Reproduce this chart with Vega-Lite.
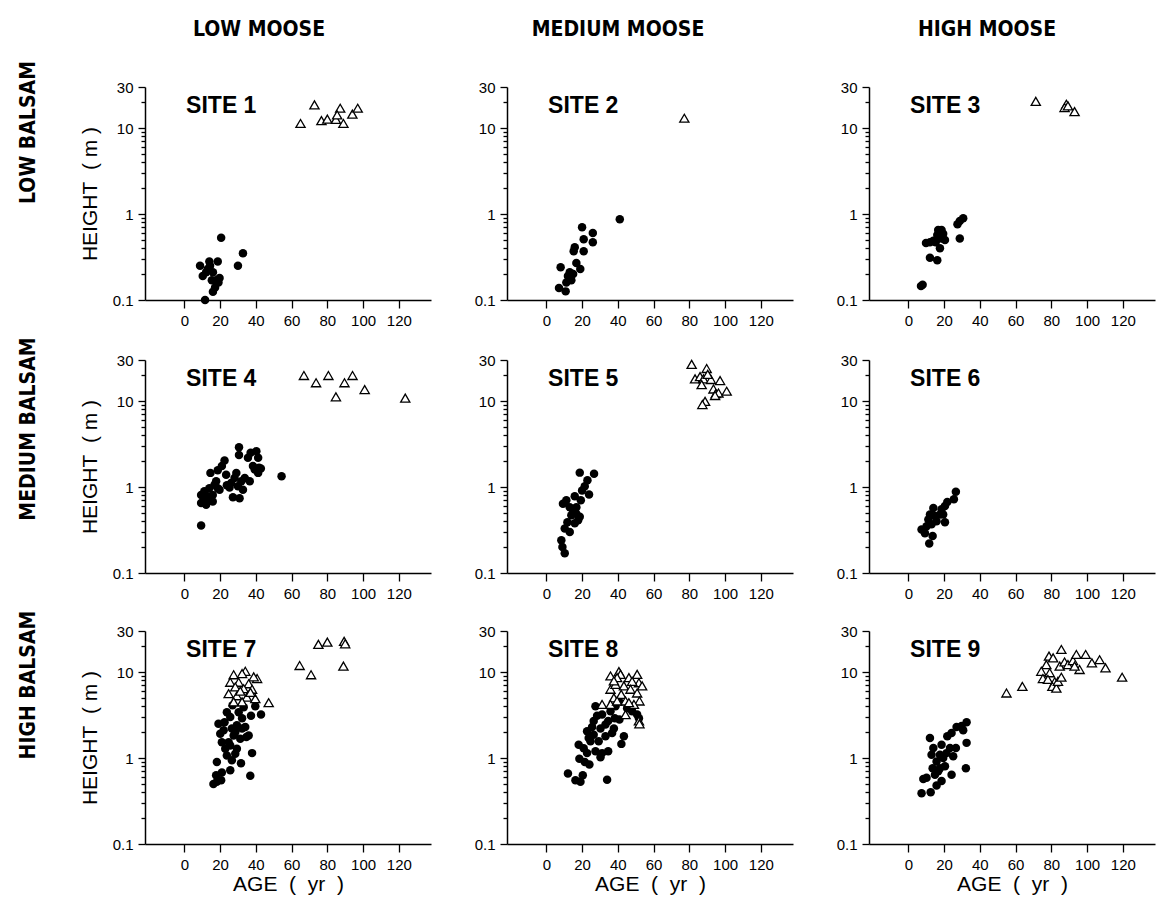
{
"$schema": "https://vega.github.io/schema/vega-lite/v6.json",
"padding": {"left": 18, "top": 19, "right": 4, "bottom": 4},
"background": "white",
"config": {
  "view": {"stroke": null},
  "axis": {"grid": false, "domainColor": "black", "domainWidth": 1.5, "tickColor": "black", "tickWidth": 1.3, "labelColor": "black", "labelFont": "Liberation Sans", "labelFontSize": 15, "titleFont": "Liberation Sans", "titleFontSize": 21, "titleFontWeight": "normal", "titleColor": "black"},
  "title": {"font": "DejaVu Sans Condensed, Liberation Sans, sans-serif", "fontSize": 21, "fontWeight": "bold", "color": "black"}
},
"datasets": {
"pts": [
{"s":1,"t":"d","a":20.6,"h":0.53},{"s":1,"t":"d","a":32.8,"h":0.35},{"s":1,"t":"d","a":30,"h":0.25},{"s":1,"t":"d","a":8.8,"h":0.25},{"s":1,"t":"d","a":10.3,"h":0.19},{"s":1,"t":"d","a":14,"h":0.28},{"s":1,"t":"d","a":16,"h":0.21},{"s":1,"t":"d","a":18.7,"h":0.28},{"s":1,"t":"d","a":13.1,"h":0.23},{"s":1,"t":"d","a":19.7,"h":0.18},{"s":1,"t":"d","a":19.1,"h":0.16},{"s":1,"t":"d","a":17.2,"h":0.14},{"s":1,"t":"d","a":16,"h":0.125},{"s":1,"t":"d","a":11.6,"h":0.1},{"s":1,"t":"d","a":12.2,"h":0.21},{"s":1,"t":"d","a":15.4,"h":0.17},{"s":1,"t":"d","a":17.8,"h":0.17},{"s":1,"t":"d","a":14.4,"h":0.25},
{"s":1,"t":"t","a":65,"h":11.3},{"s":1,"t":"t","a":72.8,"h":18.6},{"s":1,"t":"t","a":76.7,"h":12.2},{"s":1,"t":"t","a":80,"h":12.7},{"s":1,"t":"t","a":84.8,"h":12.6},{"s":1,"t":"t","a":87.2,"h":17},{"s":1,"t":"t","a":85.5,"h":14.2},{"s":1,"t":"t","a":89,"h":11.3},{"s":1,"t":"t","a":94,"h":14.5},{"s":1,"t":"t","a":97,"h":17},
{"s":2,"t":"d","a":41.1,"h":0.87},{"s":2,"t":"d","a":20,"h":0.7},{"s":2,"t":"d","a":20.9,"h":0.51},{"s":2,"t":"d","a":26,"h":0.6},{"s":2,"t":"d","a":26,"h":0.47},{"s":2,"t":"d","a":15.9,"h":0.41},{"s":2,"t":"d","a":15.3,"h":0.37},{"s":2,"t":"d","a":20.9,"h":0.37},{"s":2,"t":"d","a":16.8,"h":0.27},{"s":2,"t":"d","a":19,"h":0.23},{"s":2,"t":"d","a":8,"h":0.24},{"s":2,"t":"d","a":13.1,"h":0.21},{"s":2,"t":"d","a":12.1,"h":0.19},{"s":2,"t":"d","a":15,"h":0.2},{"s":2,"t":"d","a":11.2,"h":0.16},{"s":2,"t":"d","a":7.1,"h":0.138},{"s":2,"t":"d","a":10.8,"h":0.126},{"s":2,"t":"d","a":14,"h":0.17},
{"s":2,"t":"t","a":77.2,"h":13},
{"s":3,"t":"d","a":7.1,"h":0.145},{"s":3,"t":"d","a":8,"h":0.15},{"s":3,"t":"d","a":9.9,"h":0.46},{"s":3,"t":"d","a":12.1,"h":0.47},{"s":3,"t":"d","a":14,"h":0.49},{"s":3,"t":"d","a":15.3,"h":0.47},{"s":3,"t":"d","a":12.1,"h":0.31},{"s":3,"t":"d","a":16.2,"h":0.29},{"s":3,"t":"d","a":17.7,"h":0.4},{"s":3,"t":"d","a":16.7,"h":0.65},{"s":3,"t":"d","a":18,"h":0.57},{"s":3,"t":"d","a":19.5,"h":0.59},{"s":3,"t":"d","a":16.2,"h":0.57},{"s":3,"t":"d","a":18.6,"h":0.65},{"s":3,"t":"d","a":20.5,"h":0.5},{"s":3,"t":"d","a":28.8,"h":0.52},{"s":3,"t":"d","a":27.5,"h":0.76},{"s":3,"t":"d","a":28.8,"h":0.83},{"s":3,"t":"d","a":30.7,"h":0.89},{"s":3,"t":"d","a":18.6,"h":0.52},
{"s":3,"t":"t","a":71.3,"h":20.4},{"s":3,"t":"t","a":88.4,"h":18.9},{"s":3,"t":"t","a":87.4,"h":17.3},{"s":3,"t":"t","a":89.3,"h":18.1},{"s":3,"t":"t","a":93,"h":15.5},
{"s":4,"t":"d","a":9.4,"h":0.356},{"s":4,"t":"d","a":54.4,"h":1.33},{"s":4,"t":"d","a":30.6,"h":2.9},{"s":4,"t":"d","a":30.6,"h":2.35},{"s":4,"t":"d","a":9.4,"h":0.81},{"s":4,"t":"d","a":9.4,"h":0.65},{"s":4,"t":"d","a":11.2,"h":0.89},{"s":4,"t":"d","a":12.2,"h":0.62},{"s":4,"t":"d","a":13.1,"h":0.78},{"s":4,"t":"d","a":14,"h":0.97},{"s":4,"t":"d","a":14.6,"h":1.46},{"s":4,"t":"d","a":15.9,"h":0.68},{"s":4,"t":"d","a":16.9,"h":1.06},{"s":4,"t":"d","a":17.8,"h":1.17},{"s":4,"t":"d","a":18.7,"h":1.57},{"s":4,"t":"d","a":19.7,"h":0.93},{"s":4,"t":"d","a":21,"h":1.75},{"s":4,"t":"d","a":22.5,"h":2.04},{"s":4,"t":"d","a":23.4,"h":1.39},{"s":4,"t":"d","a":23.8,"h":1.05},{"s":4,"t":"d","a":25.3,"h":0.99},{"s":4,"t":"d","a":26.2,"h":1.11},{"s":4,"t":"d","a":27.2,"h":0.76},{"s":4,"t":"d","a":28.1,"h":1.27},{"s":4,"t":"d","a":29.1,"h":1.46},{"s":4,"t":"d","a":30,"h":1.02},{"s":4,"t":"d","a":30.9,"h":0.74},{"s":4,"t":"d","a":31.9,"h":1.17},{"s":4,"t":"d","a":32.8,"h":0.93},{"s":4,"t":"d","a":33.8,"h":1.27},{"s":4,"t":"d","a":35.6,"h":2.19},{"s":4,"t":"d","a":36.6,"h":1.17},{"s":4,"t":"d","a":37.1,"h":2.5},{"s":4,"t":"d","a":38.4,"h":1.75},{"s":4,"t":"d","a":39.4,"h":1.6},{"s":4,"t":"d","a":40.3,"h":2.6},{"s":4,"t":"d","a":41.3,"h":2.19},{"s":4,"t":"d","a":41.8,"h":1.67},{"s":4,"t":"d","a":42.8,"h":1.64},{"s":4,"t":"d","a":41.3,"h":1.46},{"s":4,"t":"d","a":15.9,"h":0.81},{"s":4,"t":"d","a":14,"h":0.74},{"s":4,"t":"d","a":11.2,"h":0.71},{"s":4,"t":"d","a":18.7,"h":0.97},
{"s":4,"t":"t","a":66.9,"h":19.8},{"s":4,"t":"t","a":73.7,"h":16.3},{"s":4,"t":"t","a":80.6,"h":19.8},{"s":4,"t":"t","a":84.8,"h":11.2},{"s":4,"t":"t","a":89.6,"h":16.3},{"s":4,"t":"t","a":94.1,"h":19.8},{"s":4,"t":"t","a":100.9,"h":13.6},{"s":4,"t":"t","a":123.6,"h":10.8},
{"s":5,"t":"d","a":18.7,"h":1.47},{"s":5,"t":"d","a":26.7,"h":1.43},{"s":5,"t":"d","a":23,"h":1.2},{"s":5,"t":"d","a":21.5,"h":1.02},{"s":5,"t":"d","a":23.9,"h":0.82},{"s":5,"t":"d","a":20,"h":0.91},{"s":5,"t":"d","a":19.3,"h":0.7},{"s":5,"t":"d","a":15.9,"h":0.78},{"s":5,"t":"d","a":11.2,"h":0.7},{"s":5,"t":"d","a":9.3,"h":0.64},{"s":5,"t":"d","a":13.1,"h":0.58},{"s":5,"t":"d","a":15,"h":0.51},{"s":5,"t":"d","a":16.8,"h":0.49},{"s":5,"t":"d","a":18.7,"h":0.45},{"s":5,"t":"d","a":17.8,"h":0.41},{"s":5,"t":"d","a":15.9,"h":0.38},{"s":5,"t":"d","a":11.8,"h":0.39},{"s":5,"t":"d","a":10.3,"h":0.33},{"s":5,"t":"d","a":13.1,"h":0.3},{"s":5,"t":"d","a":8.4,"h":0.24},{"s":5,"t":"d","a":9,"h":0.2},{"s":5,"t":"d","a":10.3,"h":0.17},{"s":5,"t":"d","a":14,"h":0.47},{"s":5,"t":"d","a":16.8,"h":0.58},
{"s":5,"t":"t","a":81.3,"h":26.7},{"s":5,"t":"t","a":89.7,"h":23.9},{"s":5,"t":"t","a":83.2,"h":18.1},{"s":5,"t":"t","a":86,"h":19.2},{"s":5,"t":"t","a":87.9,"h":18.1},{"s":5,"t":"t","a":92.1,"h":17.8},{"s":5,"t":"t","a":97.2,"h":17.3},{"s":5,"t":"t","a":86.9,"h":15.5},{"s":5,"t":"t","a":93.5,"h":13.8},{"s":5,"t":"t","a":94.8,"h":12.2},{"s":5,"t":"t","a":96.3,"h":12.4},{"s":5,"t":"t","a":100.9,"h":13},{"s":5,"t":"t","a":94.4,"h":11.6},{"s":5,"t":"t","a":88.8,"h":9.9},{"s":5,"t":"t","a":87.3,"h":9.1},{"s":5,"t":"t","a":90.3,"h":20.4},
{"s":6,"t":"d","a":26.6,"h":0.88},{"s":6,"t":"d","a":25.5,"h":0.72},{"s":6,"t":"d","a":21.8,"h":0.67},{"s":6,"t":"d","a":20.5,"h":0.6},{"s":6,"t":"d","a":18.6,"h":0.55},{"s":6,"t":"d","a":17.7,"h":0.48},{"s":6,"t":"d","a":14,"h":0.57},{"s":6,"t":"d","a":12.1,"h":0.48},{"s":6,"t":"d","a":11.2,"h":0.42},{"s":6,"t":"d","a":15.8,"h":0.4},{"s":6,"t":"d","a":20.5,"h":0.39},{"s":6,"t":"d","a":7.4,"h":0.32},{"s":6,"t":"d","a":9.3,"h":0.29},{"s":6,"t":"d","a":13.6,"h":0.27},{"s":6,"t":"d","a":11.7,"h":0.22},{"s":6,"t":"d","a":13,"h":0.37},{"s":6,"t":"d","a":14.9,"h":0.46},{"s":6,"t":"d","a":19.5,"h":0.48},{"s":6,"t":"d","a":10.2,"h":0.35},
{"s":7,"t":"d","a":16.3,"h":0.5},{"s":7,"t":"d","a":18.2,"h":0.53},{"s":7,"t":"d","a":20.6,"h":0.55},{"s":7,"t":"d","a":17.8,"h":0.63},{"s":7,"t":"d","a":21,"h":0.68},{"s":7,"t":"d","a":18.2,"h":0.9},{"s":7,"t":"d","a":25.7,"h":0.72},{"s":7,"t":"d","a":36.9,"h":0.62},{"s":7,"t":"d","a":26.6,"h":0.94},{"s":7,"t":"d","a":31.7,"h":0.87},{"s":7,"t":"d","a":37.9,"h":1.14},{"s":7,"t":"d","a":23.8,"h":1.07},{"s":7,"t":"d","a":28.5,"h":1.12},{"s":7,"t":"d","a":29.4,"h":1.28},{"s":7,"t":"d","a":22.9,"h":1.28},{"s":7,"t":"d","a":21,"h":1.53},{"s":7,"t":"d","a":24.8,"h":1.53},{"s":7,"t":"d","a":27.6,"h":1.83},{"s":7,"t":"d","a":31.3,"h":1.68},{"s":7,"t":"d","a":34.7,"h":1.75},{"s":7,"t":"d","a":36,"h":1.83},{"s":7,"t":"d","a":20.1,"h":1.92},{"s":7,"t":"d","a":19.1,"h":2.5},{"s":7,"t":"d","a":22.5,"h":2.6},{"s":7,"t":"d","a":26.6,"h":2.2},{"s":7,"t":"d","a":29.4,"h":2.4},{"s":7,"t":"d","a":32.3,"h":2.2},{"s":7,"t":"d","a":34.1,"h":2.3},{"s":7,"t":"d","a":37.3,"h":3.1},{"s":7,"t":"d","a":42.9,"h":3.2},{"s":7,"t":"d","a":25.7,"h":3.0},{"s":7,"t":"d","a":30.4,"h":3.4},{"s":7,"t":"d","a":27,"h":4.1},{"s":7,"t":"d","a":33.2,"h":3.9},{"s":7,"t":"d","a":39.7,"h":4.0},{"s":7,"t":"d","a":23.8,"h":3.4},{"s":7,"t":"d","a":28.5,"h":2.0},{"s":7,"t":"d","a":25.7,"h":1.4},{"s":7,"t":"d","a":32.3,"h":2.9},{"s":7,"t":"d","a":22,"h":2.1},
{"s":7,"t":"t","a":64.5,"h":11.9},{"s":7,"t":"t","a":70.9,"h":9.3},{"s":7,"t":"t","a":75,"h":21},{"s":7,"t":"t","a":80,"h":22.3},{"s":7,"t":"t","a":89.4,"h":22.7},{"s":7,"t":"t","a":90,"h":21.3},{"s":7,"t":"t","a":89,"h":11.7},{"s":7,"t":"t","a":47.2,"h":4.4},{"s":7,"t":"t","a":27.6,"h":9.3},{"s":7,"t":"t","a":34.1,"h":10.2},{"s":7,"t":"t","a":32.3,"h":9.6},{"s":7,"t":"t","a":40.7,"h":8.4},{"s":7,"t":"t","a":38.8,"h":8.8},{"s":7,"t":"t","a":25.7,"h":7.6},{"s":7,"t":"t","a":30.4,"h":7.6},{"s":7,"t":"t","a":36,"h":7.3},{"s":7,"t":"t","a":28.5,"h":6.7},{"s":7,"t":"t","a":33.2,"h":6.4},{"s":7,"t":"t","a":37.9,"h":6.3},{"s":7,"t":"t","a":24.8,"h":5.6},{"s":7,"t":"t","a":29.4,"h":5.3},{"s":7,"t":"t","a":35,"h":5.1},{"s":7,"t":"t","a":39.7,"h":4.9},{"s":7,"t":"t","a":32.3,"h":4.5},{"s":7,"t":"t","a":27.6,"h":4.5},{"s":7,"t":"t","a":37,"h":5.8},{"s":7,"t":"t","a":31.3,"h":6.0},
{"s":8,"t":"d","a":12.1,"h":0.66},{"s":8,"t":"d","a":16.3,"h":0.55},{"s":8,"t":"d","a":19.1,"h":0.53},{"s":8,"t":"d","a":20.4,"h":0.63},{"s":8,"t":"d","a":18.5,"h":0.98},{"s":8,"t":"d","a":21.5,"h":0.9},{"s":8,"t":"d","a":24.1,"h":0.84},{"s":8,"t":"d","a":34,"h":0.56},{"s":8,"t":"d","a":18.1,"h":1.43},{"s":8,"t":"d","a":22.8,"h":1.14},{"s":8,"t":"d","a":27.5,"h":1.2},{"s":8,"t":"d","a":30.3,"h":1.02},{"s":8,"t":"d","a":31.2,"h":1.14},{"s":8,"t":"d","a":34.6,"h":1.2},{"s":8,"t":"d","a":23.7,"h":1.71},{"s":8,"t":"d","a":26.5,"h":1.87},{"s":8,"t":"d","a":22.8,"h":2.05},{"s":8,"t":"d","a":29.3,"h":1.57},{"s":8,"t":"d","a":33.1,"h":1.79},{"s":8,"t":"d","a":36.8,"h":1.96},{"s":8,"t":"d","a":42,"h":1.46},{"s":8,"t":"d","a":43.4,"h":1.79},{"s":8,"t":"d","a":26.5,"h":2.7},{"s":8,"t":"d","a":27.5,"h":4.0},{"s":8,"t":"d","a":31.2,"h":3.2},{"s":8,"t":"d","a":34.6,"h":2.7},{"s":8,"t":"d","a":38.3,"h":2.9},{"s":8,"t":"d","a":40.9,"h":2.8},{"s":8,"t":"d","a":30.3,"h":2.2},{"s":8,"t":"d","a":25.6,"h":2.3},{"s":8,"t":"d","a":50.8,"h":3.2},{"s":8,"t":"d","a":51.8,"h":2.9},{"s":8,"t":"d","a":45.2,"h":3.8},{"s":8,"t":"d","a":48,"h":3.5},{"s":8,"t":"d","a":35.9,"h":3.5},{"s":8,"t":"d","a":28.4,"h":3.1},{"s":8,"t":"d","a":33.1,"h":2.45},{"s":8,"t":"d","a":24.7,"h":1.57},{"s":8,"t":"d","a":20.9,"h":1.3},{"s":8,"t":"d","a":37.8,"h":2.2},{"s":8,"t":"d","a":40.6,"h":4.6},{"s":8,"t":"d","a":38.7,"h":4.0},
{"s":8,"t":"t","a":35.9,"h":9.0},{"s":8,"t":"t","a":40.6,"h":10.1},{"s":8,"t":"t","a":41.5,"h":9.4},{"s":8,"t":"t","a":46.2,"h":8.6},{"s":8,"t":"t","a":50.8,"h":9.4},{"s":8,"t":"t","a":51.8,"h":7.5},{"s":8,"t":"t","a":48,"h":7.8},{"s":8,"t":"t","a":35.9,"h":6.3},{"s":8,"t":"t","a":38.7,"h":7.2},{"s":8,"t":"t","a":43.4,"h":6.9},{"s":8,"t":"t","a":47.1,"h":6.3},{"s":8,"t":"t","a":50.8,"h":5.7},{"s":8,"t":"t","a":52.1,"h":4.6},{"s":8,"t":"t","a":37.8,"h":5.0},{"s":8,"t":"t","a":41.9,"h":5.5},{"s":8,"t":"t","a":44.3,"h":4.6},{"s":8,"t":"t","a":49,"h":4.2},{"s":8,"t":"t","a":31.2,"h":4.2},{"s":8,"t":"t","a":35.9,"h":4.2},{"s":8,"t":"t","a":44.3,"h":3.2},{"s":8,"t":"t","a":51.8,"h":2.7},{"s":8,"t":"t","a":52.1,"h":2.5},{"s":8,"t":"t","a":39.6,"h":4.6},{"s":8,"t":"t","a":46.2,"h":4.4},{"s":8,"t":"t","a":53.6,"h":6.9},{"s":8,"t":"t","a":39.6,"h":8.6},{"s":8,"t":"t","a":37.8,"h":7.9},
{"s":9,"t":"d","a":7.4,"h":0.39},{"s":9,"t":"d","a":8.4,"h":0.57},{"s":9,"t":"d","a":10.2,"h":0.59},{"s":9,"t":"d","a":12.5,"h":0.4},{"s":9,"t":"d","a":12.1,"h":1.71},{"s":9,"t":"d","a":14,"h":1.31},{"s":9,"t":"d","a":13,"h":1.09},{"s":9,"t":"d","a":15.8,"h":0.48},{"s":9,"t":"d","a":18.6,"h":0.54},{"s":9,"t":"d","a":13.6,"h":0.76},{"s":9,"t":"d","a":15.8,"h":0.91},{"s":9,"t":"d","a":17.7,"h":0.76},{"s":9,"t":"d","a":14.9,"h":0.64},{"s":9,"t":"d","a":19.5,"h":1.0},{"s":9,"t":"d","a":18.6,"h":1.43},{"s":9,"t":"d","a":21.8,"h":1.79},{"s":9,"t":"d","a":24.2,"h":1.95},{"s":9,"t":"d","a":27,"h":2.3},{"s":9,"t":"d","a":29.8,"h":2.35},{"s":9,"t":"d","a":32.6,"h":2.6},{"s":9,"t":"d","a":30.7,"h":2.1},{"s":9,"t":"d","a":26.6,"h":1.31},{"s":9,"t":"d","a":25.1,"h":1.05},{"s":9,"t":"d","a":24.2,"h":0.64},{"s":9,"t":"d","a":32.6,"h":1.5},{"s":9,"t":"d","a":32.2,"h":0.76},{"s":9,"t":"d","a":21.4,"h":1.14},{"s":9,"t":"d","a":16.7,"h":0.7},{"s":9,"t":"d","a":20.5,"h":0.8},{"s":9,"t":"d","a":23.3,"h":1.31},{"s":9,"t":"d","a":17.7,"h":1.09},
{"s":9,"t":"t","a":54.9,"h":5.7},{"s":9,"t":"t","a":63.8,"h":6.8},{"s":9,"t":"t","a":85.6,"h":18.3},{"s":9,"t":"t","a":78.7,"h":15.3},{"s":9,"t":"t","a":81,"h":14.6},{"s":9,"t":"t","a":77.2,"h":12.2},{"s":9,"t":"t","a":74.4,"h":10.2},{"s":9,"t":"t","a":79.1,"h":9.8},{"s":9,"t":"t","a":75.3,"h":8.4},{"s":9,"t":"t","a":78.1,"h":8.2},{"s":9,"t":"t","a":81.9,"h":7.7},{"s":9,"t":"t","a":80.6,"h":6.8},{"s":9,"t":"t","a":82.8,"h":6.5},{"s":9,"t":"t","a":83.7,"h":7.8},{"s":9,"t":"t","a":85.6,"h":8.7},{"s":9,"t":"t","a":84.7,"h":11.7},{"s":9,"t":"t","a":87.4,"h":13.1},{"s":9,"t":"t","a":89.3,"h":12.2},{"s":9,"t":"t","a":92.1,"h":13.6},{"s":9,"t":"t","a":94,"h":16},{"s":9,"t":"t","a":95.8,"h":10.7},{"s":9,"t":"t","a":99.2,"h":16},{"s":9,"t":"t","a":102.7,"h":12.8},{"s":9,"t":"t","a":107,"h":13.9},{"s":9,"t":"t","a":110.3,"h":11.2},{"s":9,"t":"t","a":119.6,"h":8.7},{"s":9,"t":"t","a":93,"h":11.7}
]
},
"spacing": 9,
"vconcat": [
{"title": {"text": "LOW BALSAM", "orient": "left", "anchor": "middle", "offset": 40, "dx": 41},
 "spacing": 43,
 "hconcat": [
  {"width": 286, "height": 213, "title": {"text": "LOW MOOSE", "offset": 40, "dx": -29},
   "layer": [
    {"data": {"name": "pts"}, "transform": [{"filter": "datum.s == 1 && datum.t == 'd'"}], "mark": {"type": "point", "shape": "circle", "filled": true, "color": "black", "size": 72, "opacity": 1},
     "encoding": {"x": {"field": "a", "type": "quantitative", "scale": {"domain": [-22, 138], "nice": false, "zero": false}, "axis": {"title": null, "values": [0,10,20,30,40,50,60,70,80,90,100,110,120,130], "labelExpr": "datum.value % 20 === 0 ? datum.label : ''", "format": "d", "tickSize": {"condition": {"test": "datum.value % 20 === 0", "value": 8}, "value": 5}, "labelPadding": 5, "labelFlush": false, "labelOverlap": false}},
      "y": {"field": "h", "type": "quantitative", "scale": {"type": "log", "domain": [0.1, 30], "nice": false}, "axis": {"title": "HEIGHT\u00a0\u00a0(\u00a0m\u00a0)", "titlePadding": 12, "values": [0.1,0.2,0.3,0.4,0.5,0.6,0.7,0.8,0.9,1,2,3,4,5,6,7,8,9,10,20,30], "format": "~g", "labelExpr": "indexof([0.1,1,10,30], datum.value) >= 0 ? datum.label : ''", "tickSize": {"condition": {"test": "indexof([0.1,1,10,30], datum.value) >= 0", "value": 7}, "value": 4}, "labelPadding": 5, "labelFlush": false, "labelOverlap": false}}}},
    {"data": {"name": "pts"}, "transform": [{"filter": "datum.s == 1 && datum.t == 't'"}], "mark": {"type": "point", "shape": "triangle-up", "filled": true, "fill": "white", "stroke": "black", "strokeWidth": 1.3, "size": 85, "opacity": 1},
     "encoding": {"x": {"field": "a", "type": "quantitative", "scale": {"domain": [-22, 138], "nice": false, "zero": false}}, "y": {"field": "h", "type": "quantitative", "scale": {"type": "log", "domain": [0.1, 30], "nice": false}}}},
    {"data": {"values": [{"label": "SITE 1"}]}, "mark": {"type": "text", "align": "left", "baseline": "middle", "font": "Liberation Sans", "fontWeight": "bold", "fontSize": 23, "color": "black"},
     "encoding": {"x": {"datum": 1, "type": "quantitative", "scale": {"domain": [-22, 138], "nice": false, "zero": false}}, "y": {"datum": 18, "type": "quantitative", "scale": {"type": "log", "domain": [0.1, 30], "nice": false}}, "text": {"field": "label"}}}
   ]},
  {"width": 286, "height": 213, "title": {"text": "MEDIUM MOOSE", "offset": 40, "dx": -32},
   "layer": [
    {"data": {"name": "pts"}, "transform": [{"filter": "datum.s == 2 && datum.t == 'd'"}], "mark": {"type": "point", "shape": "circle", "filled": true, "color": "black", "size": 72, "opacity": 1},
     "encoding": {"x": {"field": "a", "type": "quantitative", "scale": {"domain": [-22, 138], "nice": false, "zero": false}, "axis": {"title": null, "values": [0,10,20,30,40,50,60,70,80,90,100,110,120,130], "labelExpr": "datum.value % 20 === 0 ? datum.label : ''", "format": "d", "tickSize": {"condition": {"test": "datum.value % 20 === 0", "value": 8}, "value": 5}, "labelPadding": 5, "labelFlush": false, "labelOverlap": false}},
      "y": {"field": "h", "type": "quantitative", "scale": {"type": "log", "domain": [0.1, 30], "nice": false}, "axis": {"title": null, "values": [0.1,0.2,0.3,0.4,0.5,0.6,0.7,0.8,0.9,1,2,3,4,5,6,7,8,9,10,20,30], "format": "~g", "labelExpr": "indexof([0.1,1,10,30], datum.value) >= 0 ? datum.label : ''", "tickSize": {"condition": {"test": "indexof([0.1,1,10,30], datum.value) >= 0", "value": 7}, "value": 4}, "labelPadding": 5, "labelFlush": false, "labelOverlap": false}}}},
    {"data": {"name": "pts"}, "transform": [{"filter": "datum.s == 2 && datum.t == 't'"}], "mark": {"type": "point", "shape": "triangle-up", "filled": true, "fill": "white", "stroke": "black", "strokeWidth": 1.3, "size": 85, "opacity": 1},
     "encoding": {"x": {"field": "a", "type": "quantitative", "scale": {"domain": [-22, 138], "nice": false, "zero": false}}, "y": {"field": "h", "type": "quantitative", "scale": {"type": "log", "domain": [0.1, 30], "nice": false}}}},
    {"data": {"values": [{"label": "SITE 2"}]}, "mark": {"type": "text", "align": "left", "baseline": "middle", "font": "Liberation Sans", "fontWeight": "bold", "fontSize": 23, "color": "black"},
     "encoding": {"x": {"datum": 1, "type": "quantitative", "scale": {"domain": [-22, 138], "nice": false, "zero": false}}, "y": {"datum": 18, "type": "quantitative", "scale": {"type": "log", "domain": [0.1, 30], "nice": false}}, "text": {"field": "label"}}}
   ]},
  {"width": 286, "height": 213, "title": {"text": "HIGH MOOSE", "offset": 40, "dx": -25},
   "layer": [
    {"data": {"name": "pts"}, "transform": [{"filter": "datum.s == 3 && datum.t == 'd'"}], "mark": {"type": "point", "shape": "circle", "filled": true, "color": "black", "size": 72, "opacity": 1},
     "encoding": {"x": {"field": "a", "type": "quantitative", "scale": {"domain": [-22, 138], "nice": false, "zero": false}, "axis": {"title": null, "values": [0,10,20,30,40,50,60,70,80,90,100,110,120,130], "labelExpr": "datum.value % 20 === 0 ? datum.label : ''", "format": "d", "tickSize": {"condition": {"test": "datum.value % 20 === 0", "value": 8}, "value": 5}, "labelPadding": 5, "labelFlush": false, "labelOverlap": false}},
      "y": {"field": "h", "type": "quantitative", "scale": {"type": "log", "domain": [0.1, 30], "nice": false}, "axis": {"title": null, "values": [0.1,0.2,0.3,0.4,0.5,0.6,0.7,0.8,0.9,1,2,3,4,5,6,7,8,9,10,20,30], "format": "~g", "labelExpr": "indexof([0.1,1,10,30], datum.value) >= 0 ? datum.label : ''", "tickSize": {"condition": {"test": "indexof([0.1,1,10,30], datum.value) >= 0", "value": 7}, "value": 4}, "labelPadding": 5, "labelFlush": false, "labelOverlap": false}}}},
    {"data": {"name": "pts"}, "transform": [{"filter": "datum.s == 3 && datum.t == 't'"}], "mark": {"type": "point", "shape": "triangle-up", "filled": true, "fill": "white", "stroke": "black", "strokeWidth": 1.3, "size": 85, "opacity": 1},
     "encoding": {"x": {"field": "a", "type": "quantitative", "scale": {"domain": [-22, 138], "nice": false, "zero": false}}, "y": {"field": "h", "type": "quantitative", "scale": {"type": "log", "domain": [0.1, 30], "nice": false}}}},
    {"data": {"values": [{"label": "SITE 3"}]}, "mark": {"type": "text", "align": "left", "baseline": "middle", "font": "Liberation Sans", "fontWeight": "bold", "fontSize": 23, "color": "black"},
     "encoding": {"x": {"datum": 1, "type": "quantitative", "scale": {"domain": [-22, 138], "nice": false, "zero": false}}, "y": {"datum": 18, "type": "quantitative", "scale": {"type": "log", "domain": [0.1, 30], "nice": false}}, "text": {"field": "label"}}}
   ]}
 ]},
{"title": {"text": "MEDIUM BALSAM", "orient": "left", "anchor": "middle", "offset": 40, "dx": 48},
 "spacing": 43,
 "hconcat": [
  {"width": 286, "height": 213,
   "layer": [
    {"data": {"name": "pts"}, "transform": [{"filter": "datum.s == 4 && datum.t == 'd'"}], "mark": {"type": "point", "shape": "circle", "filled": true, "color": "black", "size": 72, "opacity": 1},
     "encoding": {"x": {"field": "a", "type": "quantitative", "scale": {"domain": [-22, 138], "nice": false, "zero": false}, "axis": {"title": null, "values": [0,10,20,30,40,50,60,70,80,90,100,110,120,130], "labelExpr": "datum.value % 20 === 0 ? datum.label : ''", "format": "d", "tickSize": {"condition": {"test": "datum.value % 20 === 0", "value": 8}, "value": 5}, "labelPadding": 5, "labelFlush": false, "labelOverlap": false}},
      "y": {"field": "h", "type": "quantitative", "scale": {"type": "log", "domain": [0.1, 30], "nice": false}, "axis": {"title": "HEIGHT\u00a0\u00a0(\u00a0m\u00a0)", "titlePadding": 12, "values": [0.1,0.2,0.3,0.4,0.5,0.6,0.7,0.8,0.9,1,2,3,4,5,6,7,8,9,10,20,30], "format": "~g", "labelExpr": "indexof([0.1,1,10,30], datum.value) >= 0 ? datum.label : ''", "tickSize": {"condition": {"test": "indexof([0.1,1,10,30], datum.value) >= 0", "value": 7}, "value": 4}, "labelPadding": 5, "labelFlush": false, "labelOverlap": false}}}},
    {"data": {"name": "pts"}, "transform": [{"filter": "datum.s == 4 && datum.t == 't'"}], "mark": {"type": "point", "shape": "triangle-up", "filled": true, "fill": "white", "stroke": "black", "strokeWidth": 1.3, "size": 85, "opacity": 1},
     "encoding": {"x": {"field": "a", "type": "quantitative", "scale": {"domain": [-22, 138], "nice": false, "zero": false}}, "y": {"field": "h", "type": "quantitative", "scale": {"type": "log", "domain": [0.1, 30], "nice": false}}}},
    {"data": {"values": [{"label": "SITE 4"}]}, "mark": {"type": "text", "align": "left", "baseline": "middle", "font": "Liberation Sans", "fontWeight": "bold", "fontSize": 23, "color": "black"},
     "encoding": {"x": {"datum": 1, "type": "quantitative", "scale": {"domain": [-22, 138], "nice": false, "zero": false}}, "y": {"datum": 18, "type": "quantitative", "scale": {"type": "log", "domain": [0.1, 30], "nice": false}}, "text": {"field": "label"}}}
   ]},
  {"width": 286, "height": 213,
   "layer": [
    {"data": {"name": "pts"}, "transform": [{"filter": "datum.s == 5 && datum.t == 'd'"}], "mark": {"type": "point", "shape": "circle", "filled": true, "color": "black", "size": 72, "opacity": 1},
     "encoding": {"x": {"field": "a", "type": "quantitative", "scale": {"domain": [-22, 138], "nice": false, "zero": false}, "axis": {"title": null, "values": [0,10,20,30,40,50,60,70,80,90,100,110,120,130], "labelExpr": "datum.value % 20 === 0 ? datum.label : ''", "format": "d", "tickSize": {"condition": {"test": "datum.value % 20 === 0", "value": 8}, "value": 5}, "labelPadding": 5, "labelFlush": false, "labelOverlap": false}},
      "y": {"field": "h", "type": "quantitative", "scale": {"type": "log", "domain": [0.1, 30], "nice": false}, "axis": {"title": null, "values": [0.1,0.2,0.3,0.4,0.5,0.6,0.7,0.8,0.9,1,2,3,4,5,6,7,8,9,10,20,30], "format": "~g", "labelExpr": "indexof([0.1,1,10,30], datum.value) >= 0 ? datum.label : ''", "tickSize": {"condition": {"test": "indexof([0.1,1,10,30], datum.value) >= 0", "value": 7}, "value": 4}, "labelPadding": 5, "labelFlush": false, "labelOverlap": false}}}},
    {"data": {"name": "pts"}, "transform": [{"filter": "datum.s == 5 && datum.t == 't'"}], "mark": {"type": "point", "shape": "triangle-up", "filled": true, "fill": "white", "stroke": "black", "strokeWidth": 1.3, "size": 85, "opacity": 1},
     "encoding": {"x": {"field": "a", "type": "quantitative", "scale": {"domain": [-22, 138], "nice": false, "zero": false}}, "y": {"field": "h", "type": "quantitative", "scale": {"type": "log", "domain": [0.1, 30], "nice": false}}}},
    {"data": {"values": [{"label": "SITE 5"}]}, "mark": {"type": "text", "align": "left", "baseline": "middle", "font": "Liberation Sans", "fontWeight": "bold", "fontSize": 23, "color": "black"},
     "encoding": {"x": {"datum": 1, "type": "quantitative", "scale": {"domain": [-22, 138], "nice": false, "zero": false}}, "y": {"datum": 18, "type": "quantitative", "scale": {"type": "log", "domain": [0.1, 30], "nice": false}}, "text": {"field": "label"}}}
   ]},
  {"width": 286, "height": 213,
   "layer": [
    {"data": {"name": "pts"}, "transform": [{"filter": "datum.s == 6 && datum.t == 'd'"}], "mark": {"type": "point", "shape": "circle", "filled": true, "color": "black", "size": 72, "opacity": 1},
     "encoding": {"x": {"field": "a", "type": "quantitative", "scale": {"domain": [-22, 138], "nice": false, "zero": false}, "axis": {"title": null, "values": [0,10,20,30,40,50,60,70,80,90,100,110,120,130], "labelExpr": "datum.value % 20 === 0 ? datum.label : ''", "format": "d", "tickSize": {"condition": {"test": "datum.value % 20 === 0", "value": 8}, "value": 5}, "labelPadding": 5, "labelFlush": false, "labelOverlap": false}},
      "y": {"field": "h", "type": "quantitative", "scale": {"type": "log", "domain": [0.1, 30], "nice": false}, "axis": {"title": null, "values": [0.1,0.2,0.3,0.4,0.5,0.6,0.7,0.8,0.9,1,2,3,4,5,6,7,8,9,10,20,30], "format": "~g", "labelExpr": "indexof([0.1,1,10,30], datum.value) >= 0 ? datum.label : ''", "tickSize": {"condition": {"test": "indexof([0.1,1,10,30], datum.value) >= 0", "value": 7}, "value": 4}, "labelPadding": 5, "labelFlush": false, "labelOverlap": false}}}},
    {"data": {"values": [{"label": "SITE 6"}]}, "mark": {"type": "text", "align": "left", "baseline": "middle", "font": "Liberation Sans", "fontWeight": "bold", "fontSize": 23, "color": "black"},
     "encoding": {"x": {"datum": 1, "type": "quantitative", "scale": {"domain": [-22, 138], "nice": false, "zero": false}}, "y": {"datum": 18, "type": "quantitative", "scale": {"type": "log", "domain": [0.1, 30], "nice": false}}, "text": {"field": "label"}}}
   ]}
 ]},
{"title": {"text": "HIGH BALSAM", "orient": "left", "anchor": "middle", "offset": 40, "dx": 74},
 "spacing": 43,
 "hconcat": [
  {"width": 286, "height": 213,
   "layer": [
    {"data": {"name": "pts"}, "transform": [{"filter": "datum.s == 7 && datum.t == 'd'"}], "mark": {"type": "point", "shape": "circle", "filled": true, "color": "black", "size": 72, "opacity": 1},
     "encoding": {"x": {"field": "a", "type": "quantitative", "scale": {"domain": [-22, 138], "nice": false, "zero": false}, "axis": {"title": "AGE\u00a0\u00a0(\u00a0\u00a0yr\u00a0\u00a0)", "titlePadding": 1, "values": [0,10,20,30,40,50,60,70,80,90,100,110,120,130], "labelExpr": "datum.value % 20 === 0 ? datum.label : ''", "format": "d", "tickSize": {"condition": {"test": "datum.value % 20 === 0", "value": 8}, "value": 5}, "labelPadding": 5, "labelFlush": false, "labelOverlap": false}},
      "y": {"field": "h", "type": "quantitative", "scale": {"type": "log", "domain": [0.1, 30], "nice": false}, "axis": {"title": "HEIGHT\u00a0\u00a0(\u00a0m\u00a0)", "titlePadding": 12, "values": [0.1,0.2,0.3,0.4,0.5,0.6,0.7,0.8,0.9,1,2,3,4,5,6,7,8,9,10,20,30], "format": "~g", "labelExpr": "indexof([0.1,1,10,30], datum.value) >= 0 ? datum.label : ''", "tickSize": {"condition": {"test": "indexof([0.1,1,10,30], datum.value) >= 0", "value": 7}, "value": 4}, "labelPadding": 5, "labelFlush": false, "labelOverlap": false}}}},
    {"data": {"name": "pts"}, "transform": [{"filter": "datum.s == 7 && datum.t == 't'"}], "mark": {"type": "point", "shape": "triangle-up", "filled": true, "fill": "white", "stroke": "black", "strokeWidth": 1.3, "size": 85, "opacity": 1},
     "encoding": {"x": {"field": "a", "type": "quantitative", "scale": {"domain": [-22, 138], "nice": false, "zero": false}}, "y": {"field": "h", "type": "quantitative", "scale": {"type": "log", "domain": [0.1, 30], "nice": false}}}},
    {"data": {"values": [{"label": "SITE 7"}]}, "mark": {"type": "text", "align": "left", "baseline": "middle", "font": "Liberation Sans", "fontWeight": "bold", "fontSize": 23, "color": "black"},
     "encoding": {"x": {"datum": 1, "type": "quantitative", "scale": {"domain": [-22, 138], "nice": false, "zero": false}}, "y": {"datum": 18, "type": "quantitative", "scale": {"type": "log", "domain": [0.1, 30], "nice": false}}, "text": {"field": "label"}}}
   ]},
  {"width": 286, "height": 213,
   "layer": [
    {"data": {"name": "pts"}, "transform": [{"filter": "datum.s == 8 && datum.t == 'd'"}], "mark": {"type": "point", "shape": "circle", "filled": true, "color": "black", "size": 72, "opacity": 1},
     "encoding": {"x": {"field": "a", "type": "quantitative", "scale": {"domain": [-22, 138], "nice": false, "zero": false}, "axis": {"title": "AGE\u00a0\u00a0(\u00a0\u00a0yr\u00a0\u00a0)", "titlePadding": 1, "values": [0,10,20,30,40,50,60,70,80,90,100,110,120,130], "labelExpr": "datum.value % 20 === 0 ? datum.label : ''", "format": "d", "tickSize": {"condition": {"test": "datum.value % 20 === 0", "value": 8}, "value": 5}, "labelPadding": 5, "labelFlush": false, "labelOverlap": false}},
      "y": {"field": "h", "type": "quantitative", "scale": {"type": "log", "domain": [0.1, 30], "nice": false}, "axis": {"title": null, "values": [0.1,0.2,0.3,0.4,0.5,0.6,0.7,0.8,0.9,1,2,3,4,5,6,7,8,9,10,20,30], "format": "~g", "labelExpr": "indexof([0.1,1,10,30], datum.value) >= 0 ? datum.label : ''", "tickSize": {"condition": {"test": "indexof([0.1,1,10,30], datum.value) >= 0", "value": 7}, "value": 4}, "labelPadding": 5, "labelFlush": false, "labelOverlap": false}}}},
    {"data": {"name": "pts"}, "transform": [{"filter": "datum.s == 8 && datum.t == 't'"}], "mark": {"type": "point", "shape": "triangle-up", "filled": true, "fill": "white", "stroke": "black", "strokeWidth": 1.3, "size": 85, "opacity": 1},
     "encoding": {"x": {"field": "a", "type": "quantitative", "scale": {"domain": [-22, 138], "nice": false, "zero": false}}, "y": {"field": "h", "type": "quantitative", "scale": {"type": "log", "domain": [0.1, 30], "nice": false}}}},
    {"data": {"values": [{"label": "SITE 8"}]}, "mark": {"type": "text", "align": "left", "baseline": "middle", "font": "Liberation Sans", "fontWeight": "bold", "fontSize": 23, "color": "black"},
     "encoding": {"x": {"datum": 1, "type": "quantitative", "scale": {"domain": [-22, 138], "nice": false, "zero": false}}, "y": {"datum": 18, "type": "quantitative", "scale": {"type": "log", "domain": [0.1, 30], "nice": false}}, "text": {"field": "label"}}}
   ]},
  {"width": 286, "height": 213,
   "layer": [
    {"data": {"name": "pts"}, "transform": [{"filter": "datum.s == 9 && datum.t == 'd'"}], "mark": {"type": "point", "shape": "circle", "filled": true, "color": "black", "size": 72, "opacity": 1},
     "encoding": {"x": {"field": "a", "type": "quantitative", "scale": {"domain": [-22, 138], "nice": false, "zero": false}, "axis": {"title": "AGE\u00a0\u00a0(\u00a0\u00a0yr\u00a0\u00a0)", "titlePadding": 1, "values": [0,10,20,30,40,50,60,70,80,90,100,110,120,130], "labelExpr": "datum.value % 20 === 0 ? datum.label : ''", "format": "d", "tickSize": {"condition": {"test": "datum.value % 20 === 0", "value": 8}, "value": 5}, "labelPadding": 5, "labelFlush": false, "labelOverlap": false}},
      "y": {"field": "h", "type": "quantitative", "scale": {"type": "log", "domain": [0.1, 30], "nice": false}, "axis": {"title": null, "values": [0.1,0.2,0.3,0.4,0.5,0.6,0.7,0.8,0.9,1,2,3,4,5,6,7,8,9,10,20,30], "format": "~g", "labelExpr": "indexof([0.1,1,10,30], datum.value) >= 0 ? datum.label : ''", "tickSize": {"condition": {"test": "indexof([0.1,1,10,30], datum.value) >= 0", "value": 7}, "value": 4}, "labelPadding": 5, "labelFlush": false, "labelOverlap": false}}}},
    {"data": {"name": "pts"}, "transform": [{"filter": "datum.s == 9 && datum.t == 't'"}], "mark": {"type": "point", "shape": "triangle-up", "filled": true, "fill": "white", "stroke": "black", "strokeWidth": 1.3, "size": 85, "opacity": 1},
     "encoding": {"x": {"field": "a", "type": "quantitative", "scale": {"domain": [-22, 138], "nice": false, "zero": false}}, "y": {"field": "h", "type": "quantitative", "scale": {"type": "log", "domain": [0.1, 30], "nice": false}}}},
    {"data": {"values": [{"label": "SITE 9"}]}, "mark": {"type": "text", "align": "left", "baseline": "middle", "font": "Liberation Sans", "fontWeight": "bold", "fontSize": 23, "color": "black"},
     "encoding": {"x": {"datum": 1, "type": "quantitative", "scale": {"domain": [-22, 138], "nice": false, "zero": false}}, "y": {"datum": 18, "type": "quantitative", "scale": {"type": "log", "domain": [0.1, 30], "nice": false}}, "text": {"field": "label"}}}
   ]}
 ]}
]
}
